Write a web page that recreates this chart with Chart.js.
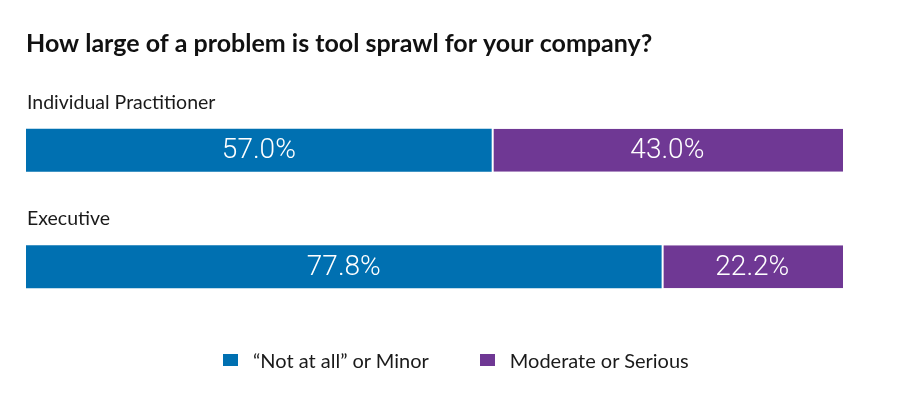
<!DOCTYPE html>
<html>
<head>
<meta charset="utf-8">
<script src="https://cdn.jsdelivr.net/npm/chart.js@4/dist/chart.umd.min.js"></script>
<style>
  body { margin: 0; background: #fff; }
  #wrap { position: relative; width: 914px; height: 393px; }
  #legend {
    position: absolute; left: 223px; top: 348px;
    display: flex; align-items: center;
    font-family: Lato, "Open Sans", sans-serif; font-size: 20px; color: #1a1a1a;
  }
  #legend .item { display: flex; align-items: center; margin-right: 51px; }
  #legend .box { width: 15px; height: 12px; margin-right: 15px; }
</style>
</head>
<body>
<div id="wrap">
  <canvas id="sprawlChart"></canvas>
  <div id="legend"></div>
</div>
<script>
// Data
const groups = ["Individual Practitioner", "Executive"];
const seriesNames = ["\u201cNot at all\u201d or Minor", "Moderate or Serious"];
const minorValues = [57.0, 77.8];
const seriousValues = [43.0, 22.2];
const seriesColors = ["#0070b1", "#6f3894"];

// Group names above each bar
const groupLabels = {
  id: "groupLabels",
  afterDatasetsDraw(chart) {
    const ctx = chart.ctx;
    const yScale = chart.scales.y;
    ctx.save();
    ctx.font = "19.5px Lato, 'Open Sans', sans-serif";
    ctx.fillStyle = "#1a1a1a";
    ctx.textBaseline = "middle";
    ctx.textAlign = "left";
    groups.forEach(function (name, i) {
      ctx.fillText(name, chart.chartArea.left + 1, yScale.getPixelForValue(i) - 48);
    });
    ctx.restore();
  }
};

// Percent text inside each segment
const segmentLabels = {
  id: "segmentLabels",
  afterDatasetsDraw(chart) {
    const ctx = chart.ctx;
    ctx.save();
    ctx.font = "300 28px Roboto, 'Open Sans', sans-serif";
    ctx.fillStyle = "#ffffff";
    ctx.textAlign = "center";
    ctx.textBaseline = "middle";
    chart.data.datasets.forEach(function (ds, di) {
      chart.getDatasetMeta(di).data.forEach(function (bar, i) {
        const mid = (bar.x + bar.base) / 2;
        ctx.fillText(ds.data[i].toFixed(1) + "%", mid, bar.y + 1);
      });
    });
    ctx.restore();
  }
};

new Chart("sprawlChart", {
  type: "bar",
  data: {
    labels: groups,
    datasets: [{
      label: seriesNames[0],
      data: minorValues,
      backgroundColor: seriesColors[0],
      borderWidth: 0
    }, {
      label: seriesNames[1],
      data: seriousValues,
      backgroundColor: seriesColors[1],
      borderColor: "#ffffff",
      borderWidth: { left: 2, right: 0, top: 0, bottom: 0 },
      borderSkipped: false
    }]
  },
  options: {
    indexAxis: "y",
    responsive: true,
    maintainAspectRatio: false,
    animation: false,
    categoryPercentage: 1,
    barPercentage: 0.37,
    layout: { padding: { left: 26, right: 71, top: 0, bottom: 68 } },
    scales: {
      x: { stacked: true, min: 0, max: 100, display: false },
      y: { stacked: true, display: false }
    },
    plugins: {
      legend: { display: false },
      tooltip: { enabled: false },
      title: {
        display: true,
        text: "How large of a problem is tool sprawl for your company?",
        align: "start",
        color: "#111111",
        font: { family: "Lato, 'Open Sans', sans-serif", size: 25, weight: "bold" },
        padding: { top: 29, bottom: 33 }
      }
    }
  },
  plugins: [groupLabels, segmentLabels]
});

// Legend below the chart
const legendEl = document.getElementById("legend");
seriesNames.forEach(function (name, i) {
  const item = document.createElement("div");
  item.className = "item";
  const box = document.createElement("span");
  box.className = "box";
  box.style.background = seriesColors[i];
  const text = document.createElement("span");
  text.textContent = name;
  item.appendChild(box);
  item.appendChild(text);
  legendEl.appendChild(item);
});
</script>
</body>
</html>
